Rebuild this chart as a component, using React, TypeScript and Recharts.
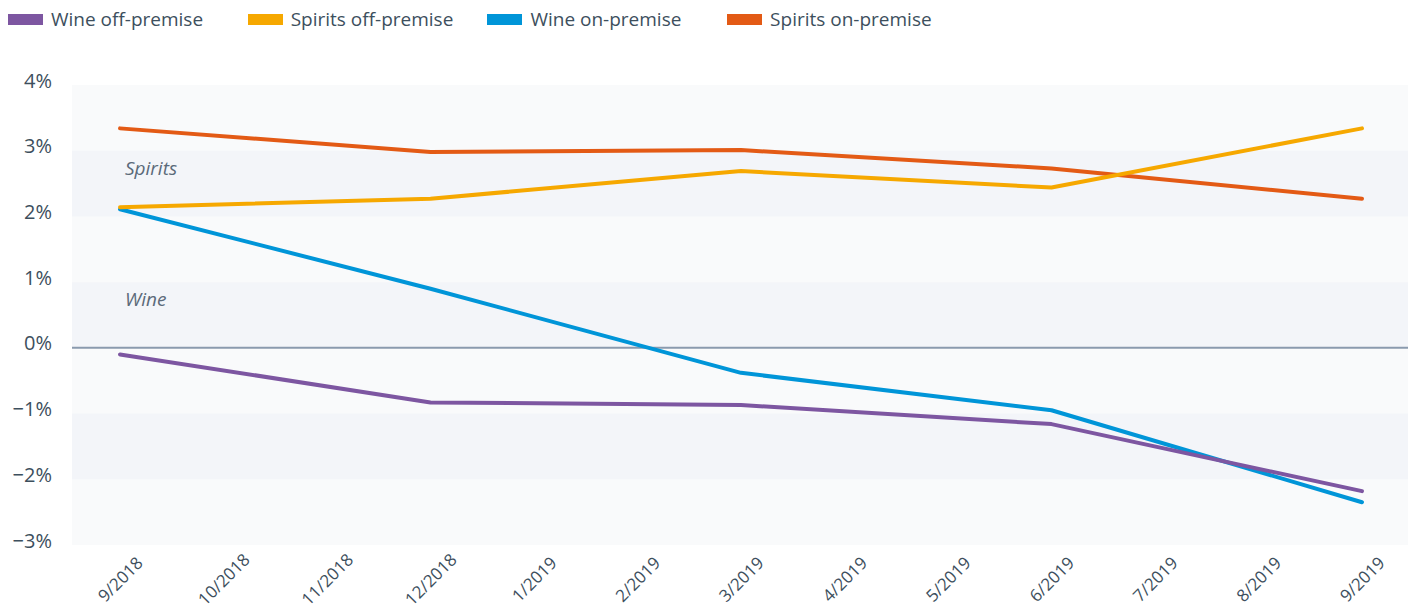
import React from 'react';
import { LineChart, Line, XAxis, YAxis, ReferenceArea, ReferenceLine } from 'recharts';

const months = ['9/2018', '10/2018', '11/2018', '12/2018', '1/2019', '2/2019', '3/2019', '4/2019', '5/2019', '6/2019', '7/2019', '8/2019', '9/2019'];
const wineOff = [-0.1, null, null, -0.83, null, null, -0.87, null, null, -1.16, null, null, -2.18];
const spiritsOff = [2.14, null, null, 2.27, null, null, 2.69, null, null, 2.44, null, null, 3.34];
const wineOn = [2.11, null, null, 0.9, null, null, -0.38, null, null, -0.95, null, null, -2.35];
const spiritsOn = [3.34, null, null, 2.98, null, null, 3.01, null, null, 2.73, null, null, 2.27];
const yTicks = [-3, -2, -1, 0, 1, 2, 3, 4];

const series = [
  { key: 'wineOff', name: 'Wine off-premise', color: '#7d56a1', values: wineOff },
  { key: 'spiritsOff', name: 'Spirits off-premise', color: '#f6a800', values: spiritsOff },
  { key: 'wineOn', name: 'Wine on-premise', color: '#0095d8', values: wineOn },
  { key: 'spiritsOn', name: 'Spirits on-premise', color: '#e35a15', values: spiritsOn },
];

const data = months.map((m, i) => {
  const row: any = { idx: i, month: m };
  series.forEach((s) => { row[s.key] = s.values[i]; });
  return row;
});
const xTicks = months.map((_, i) => i);

const FONT = '"Open Sans", sans-serif';
const TEXT = '#3d4f5d';

const fmt = (v: number) => (v < 0 ? '\u2212' + Math.abs(v) + '%' : v + '%');

const XTick = (props: any) => {
  const { x, y, payload } = props;
  const cy = y + 34;
  return (
    <text x={x} y={cy} textAnchor="middle" dominantBaseline="central" fill={TEXT} fontSize={17} fontFamily={FONT}
      transform={`rotate(-45, ${x}, ${cy})`}>
      {months[payload.value]}
    </text>
  );
};

const YTick = (props: any) => {
  const { x, y, payload } = props;
  return (
    <text x={x} y={y - 5} textAnchor="end" dominantBaseline="central" fill={TEXT} fontSize={20} fontFamily={FONT}>
      {fmt(payload.value)}
    </text>
  );
};

const BandLabel = (props: any) => {
  const { viewBox, text } = props;
  if (!viewBox) return null;
  return (
    <text x={viewBox.x + 53} y={viewBox.y + 24} fill="#5b6a79" fontSize={19} fontStyle="italic" fontFamily={FONT}>
      {text}
    </text>
  );
};

export default function App() {
  return (
    <div style={{ position: 'relative', width: 1408, height: 601 }}>
      <div style={{ position: 'absolute', left: 0, top: 0, height: 30, width: 1408, fontFamily: FONT }}>
        {series.map((s, i) => (
          <div key={s.key} style={{ position: 'absolute', left: i * 239.7, top: 0, display: 'flex', alignItems: 'center', height: 22 }}>
            <div style={{ width: 35, height: 11, background: s.color }} />
            <span style={{ marginLeft: 8, fontSize: 19, color: TEXT, whiteSpace: 'nowrap', lineHeight: '22px' }}>{s.name}</span>
          </div>
        ))}
      </div>
      <LineChart width={1408} height={601} data={data} margin={{ top: 77, right: 3, bottom: 0, left: 0 }}>
        <XAxis dataKey="idx" type="number" domain={[-0.464, 12.493]} ticks={xTicks} allowDataOverflow axisLine={false}
          tickLine={false} tickSize={0} tickMargin={0} height={64} interval={0} tick={<XTick />} />
        <YAxis domain={[-3, 4]} ticks={yTicks} width={64} axisLine={false} tickLine={false} tickSize={0} tickMargin={20}
          tick={<YTick />} type="number" allowDataOverflow />
        <ReferenceArea y1={-3} y2={4} fill="#f9fafb" fillOpacity={1} stroke="none" />
        <ReferenceArea y1={2} y2={3} fill="#f3f5f9" fillOpacity={1} stroke="none" label={<BandLabel text="Spirits" />} />
        <ReferenceArea y1={0} y2={1} fill="#f3f5f9" fillOpacity={1} stroke="none" label={<BandLabel text="Wine" />} />
        <ReferenceArea y1={-2} y2={-1} fill="#f3f5f9" fillOpacity={1} stroke="none" />
        <ReferenceLine y={0} stroke="#8a9aae" strokeWidth={2} />
        {[...series].reverse().map((s) => (
          <Line key={s.key} type="linear" dataKey={s.key} name={s.name} stroke={s.color} strokeWidth={4} dot={false}
            connectNulls isAnimationActive={false} strokeLinecap="round" strokeLinejoin="round" />
        ))}
      </LineChart>
    </div>
  );
}
